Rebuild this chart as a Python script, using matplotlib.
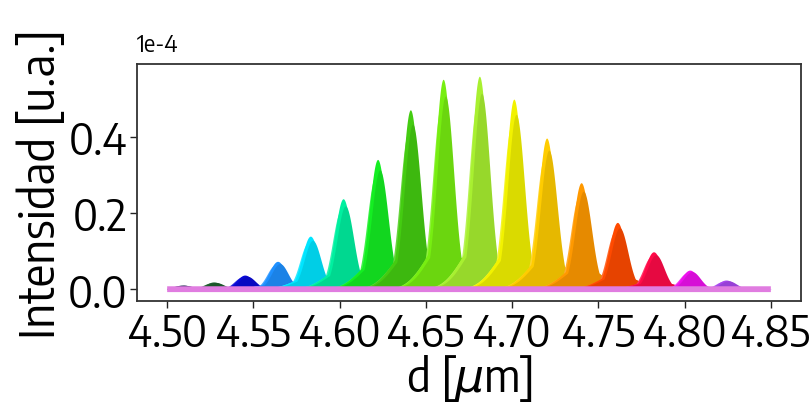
import numpy as np
import matplotlib
matplotlib.use('Agg')
from matplotlib import pyplot as plt
from matplotlib.colors import to_rgb

plt.rcParams['font.family'] = ['Encode Sans Semi Condensed', 'DejaVu Sans']
plt.rcParams['mathtext.fontset'] = 'dejavusans'

# peak positions (um), heights (x1e-4) and colours
peak_d = [4.509, 4.527, 4.545, 4.564, 4.583, 4.602, 4.622, 4.641, 4.660,
          4.681, 4.701, 4.720, 4.740, 4.761, 4.782, 4.803, 4.824]
peak_h = [0.011, 0.019, 0.037, 0.073, 0.139, 0.237, 0.340, 0.470, 0.550,
          0.558, 0.498, 0.396, 0.279, 0.175, 0.098, 0.050, 0.024]
peak_c = ['#222255', '#1f5f2f', '#0a0ad8', '#1e90ff', '#00e5ff', '#00f0a0',
          '#14ee22', '#44cc11', '#77ee11', '#a8f030', '#f2f200', '#ffcc00',
          '#ff9900', '#ff4a00', '#ff0a48', '#ee11ee', '#a848ee']

d_min, d_max = 4.50, 4.85
xticks = [4.50, 4.55, 4.60, 4.65, 4.70, 4.75, 4.80, 4.85]
yticks = [0.0, 0.2, 0.4]

# shape of one peak: narrow core + broad foot, three slightly shifted parts
SIGMA, SIGMA_FOOT, FOOT = 0.0048, 0.0105, 0.24
sub_shift = [-0.0013, 0.0, 0.0013]
sub_scale = [0.87, 1.0, 0.92]
sub_mix = [0.18, 0.0, -0.10]


def shade(c, k):
    c = np.array(to_rgb(c))
    if k >= 0:
        return tuple(c + (1 - c) * k)
    return tuple(c * (1 + k))


def peak(x, x0, h):
    core = np.exp(-0.5 * ((x - x0) / SIGMA) ** 2)
    foot = FOOT * np.exp(-0.5 * ((x - x0) / SIGMA_FOOT) ** 2)
    return h * np.maximum(core, foot)


d = np.linspace(d_min, d_max, 2000)

fig = plt.figure(figsize=(8.12, 4.14), dpi=100)
ax = fig.add_axes([0.1687, 0.2705, 0.8178, 0.5725])

for x0, h, c in zip(peak_d, peak_h, peak_c):
    for s, f, m in zip(sub_shift, sub_scale, sub_mix):
        ax.fill_between(d, 0, peak(d, x0 + s, h * f), color=shade(c, m),
                        lw=0)

ax.plot(d, np.zeros_like(d), color='#e07ce0', lw=4.2,
        solid_capstyle='butt', zorder=5)

ax.set_xlim(d_min - 0.0175, d_max + 0.0175)
ax.set_ylim(-0.031, 0.59)
ax.set_xticks(xticks)
ax.set_xticklabels(['%.2f' % t for t in xticks])
ax.set_yticks(yticks)
ax.set_yticklabels(['%.1f' % t for t in yticks])
ax.tick_params(labelsize=31, length=5, width=1.0, color='#222222', pad=2)
for sp in ax.spines.values():
    sp.set_color('#333333')
    sp.set_linewidth(1.3)

ax.set_xlabel(r'd [$\mu$m]', fontsize=33, labelpad=-3)
ax.set_ylabel('Intensidad [u.a.]', fontsize=34, labelpad=2)
ax.text(0.0, 1.035, '1e-4', transform=ax.transAxes, fontsize=17,
        va='bottom', ha='left')

fig.savefig('out.png', dpi=100)
